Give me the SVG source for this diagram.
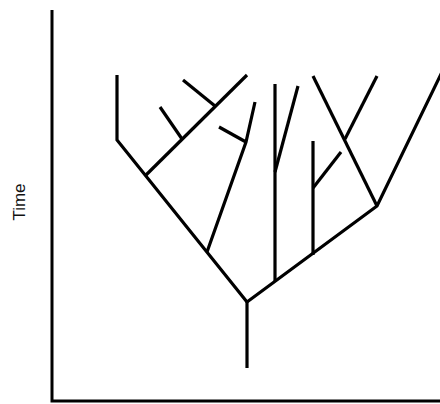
<svg xmlns="http://www.w3.org/2000/svg" width="440" height="404" viewBox="0 0 440 404">
<style>
.ax{fill:none;stroke:#000;stroke-width:3}
.br{fill:none;stroke:#000;stroke-width:3.2;stroke-linecap:butt;stroke-linejoin:miter}
.lbl{font-family:"Liberation Sans",Arial,sans-serif;font-size:17px;fill:#111}
</style>
<rect width="440" height="404" fill="#fff"/>
<g id="axes">
<path class="ax" d="M52,10 V401 H440"/>
<text class="lbl" transform="translate(25,202) rotate(-90)" text-anchor="middle">Time</text>
</g>
<g id="tree">
<path class="br" d="M247,368 V302"/>
<path class="br" d="M247,302 L117,140 V75"/>
<path class="br" d="M145,176 L247,75"/>
<path class="br" d="M182,139 L160,107"/>
<path class="br" d="M215,106 L183,80"/>
<path class="br" d="M207,252 L246,142 L255,102"/>
<path class="br" d="M246,142 L219,127"/>
<path class="br" d="M247,302 L377,206 L442,72"/>
<path class="br" d="M275,282 V84"/>
<path class="br" d="M275,172 L298,86"/>
<path class="br" d="M313,255 V141"/>
<path class="br" d="M313,188 L341,152"/>
<path class="br" d="M377,206 L313,76"/>
<path class="br" d="M345,139 L377,76"/>
</g>
</svg>
